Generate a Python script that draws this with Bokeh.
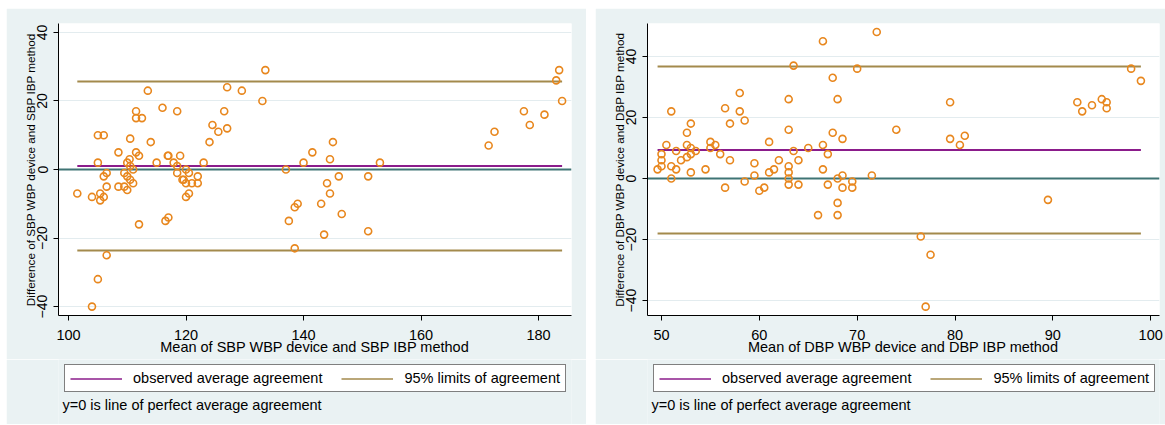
from bokeh.plotting import figure
from bokeh.models import Span, FixedTicker, Legend, LegendItem, Label, Range1d
from bokeh.layouts import row, column
from bokeh.embed import file_html
from bokeh.resources import INLINE

# ---------------- data ----------------
sbp_mean = [101.5, 104, 104, 105, 105, 105, 105.4, 105.4, 106, 106, 106, 106.5, 106.5, 106.5,
            108.5, 108.5, 109.5, 109.5, 110, 110, 110, 110.4, 110.5, 110.5, 110.5, 111, 111,
            111.5, 111.5, 111.5, 112, 112, 112.5, 113.5, 114, 115, 116, 116.5, 117, 117, 116.9,
            117.9, 118.5, 118.5, 118.5, 119, 119.4, 119.6, 120, 120, 120, 120.5, 120.5, 121,
            122, 122, 123, 124, 124.5, 125.5, 126.5, 127, 127, 129.5, 133, 133.5, 137, 137.5,
            138.5, 139, 138.5, 140, 141.5, 143, 143.5, 144, 144.5, 144.5, 145, 146, 146.5, 151,
            151, 153, 171.5, 172.5, 177.5, 178.5, 181, 183, 183.5, 184]
sbp_diff = [-7, -8, -40, 2, 10, -32, -7, -9, 10, -8, -2, -1, -5, -25,
            5, -5, -5, -1, -2, -6, 2, 3, 9, 1, -3, 0, -4,
            5, 17, 15, 4, -16, 15, 23, 8, 2, 18, -15, -14, 4, 4,
            2, 17, 1, -1, 4, -3, -3, 0, -4, -8, -1, -7, -4,
            -4, -2, 2, 8, 13, 11, 17, 24, 12, 23, 20, 29, 0, -15,
            -11, -10, -23, 2, 5, -10, -19, -4, 3, -7, 8, -2, -13, -2,
            -18, 2, 7, 11, 17, 13, 16, 26, 29, 20]
sbp_bias, sbp_upper, sbp_lower = 1.0, 25.7, -23.6

dbp_mean = [49.6, 50, 50, 50, 50.5, 51, 51, 51, 51.5, 51.5, 52, 52.6, 52.6, 52.6, 53, 53, 53, 53,
            53.5, 54.5, 55, 55, 55.5, 56, 56.5, 56.5, 57, 57, 58, 58, 58.5, 58.5, 59.5, 59.5,
            60, 60.5, 61, 61, 61.5, 62, 63, 63, 63, 63, 63, 63, 63.5, 63.5, 64, 64, 65, 66,
            66.5, 66.5, 66.5, 67, 67, 67.5, 67.5, 68, 68, 68, 68, 68.5, 68.5, 68.5, 69.5, 69.5,
            70, 71.5, 72, 74, 76.5, 77, 77.5, 79.5, 79.5, 80.5, 81, 89.5, 92.5, 93, 94, 95,
            95.5, 95.5, 98, 99]
dbp_diff = [3, 4, 6, 8, 11, 22, 4, 0, 3, 9, 6, 15, 11, 7, 10, 8, 18, 2,
            9, 3, 12, 10, 11, 8, 23, -3, 18, 6, 28, 22, 19, -1, 5, 1,
            -4, -3, 12, 2, 3, 6, 26, 16, 4, 2, 0, -2, 37, 9, -2, 6, 10, -12,
            45, 11, 3, 8, -2, 33, 15, 26, 0, -8, -12, 13, 1, -3, -1, -3,
            36, 1, 48, 16, -19, -42, -25, 25, 13, 11, 14, -7, 25, 22, 24, 26,
            25, 23, 36, 32]
dbp_bias, dbp_upper, dbp_lower = 9.3, 36.7, -18.0

sbp_xticks = [100, 120, 140, 160, 180]
dbp_xticks = [50, 60, 70, 80, 90, 100]
y_ticks = [-40, -20, 0, 20, 40]

sbp_xlabel = "Mean of SBP WBP device and SBP IBP method"
sbp_ylabel = "Difference of SBP WBP device and SBP IBP method"
dbp_xlabel = "Mean of DBP WBP device and DBP IBP method"
dbp_ylabel = "Difference of DBP WBP device and DBP IBP method"
legend_labels = ["observed average agreement", "95% limits of agreement"]
note_text = "y=0 is line of perfect average agreement"

# ---------------- styling ----------------
FONT = "Liberation Sans"
PANEL_BG = "#EAF2F3"
MARKER = "#E8871E"
MEAN_C = "#8B1C8B"
LOA_C = "#A38A4C"
ZERO_C = "#3F7474"


def make_plot(xs, ys, bias, upper, lower, xr, yr, xticks, xlabel, ylabel,
              width, b_left, b_right):
    p = figure(width=width, height=351, output_backend="svg", toolbar_location=None,
               x_range=Range1d(*xr), y_range=Range1d(*yr),
               min_border_left=b_left, min_border_right=b_right,
               min_border_top=15, min_border_bottom=44)
    p.border_fill_color = PANEL_BG
    p.background_fill_color = "white"
    p.outline_line_color = None

    p.xgrid.grid_line_color = None
    p.ygrid.grid_line_color = "#E3ECEF"
    p.ygrid.grid_line_width = 1

    p.xaxis.ticker = FixedTicker(ticks=xticks)
    p.yaxis.ticker = FixedTicker(ticks=y_ticks)
    for ax in (p.xaxis, p.yaxis):
        ax.axis_line_color = "black"
        ax.axis_line_width = 1
        ax.major_tick_line_color = "black"
        ax.major_tick_in = 0
        ax.major_tick_out = 5
        ax.minor_tick_line_color = None
        ax.major_label_text_font = FONT
        ax.major_label_text_color = "black"
        ax.axis_label_text_font = FONT
        ax.axis_label_text_font_style = "normal"
        ax.axis_label_text_color = "black"
    p.xaxis.axis_label = xlabel
    p.xaxis.major_label_text_font_size = "14.5px"
    p.xaxis.axis_label_text_font_size = "14.5px"
    p.xaxis.major_label_standoff = 9
    p.xaxis.axis_label_standoff = -4
    p.yaxis.axis_label = ylabel
    p.yaxis.major_label_orientation = "vertical"
    p.yaxis.major_label_text_font_size = "14px"
    p.yaxis.axis_label_text_font_size = "11.7px"
    p.yaxis.major_label_standoff = 6
    p.yaxis.axis_label_standoff = -2

    p.add_layout(Span(location=0, dimension="width", line_color=ZERO_C,
                      line_width=2, level="underlay"))

    x0, x1 = min(xs), max(xs)
    p.line([x0, x1], [bias, bias], line_color=MEAN_C, line_width=2)
    p.line([x0, x1], [upper, upper], line_color=LOA_C, line_width=2)
    p.line([x0, x1], [lower, lower], line_color=LOA_C, line_width=2)

    p.scatter(xs, ys, marker="circle", size=7, fill_alpha=0,
              line_color=MARKER, line_width=1.6)
    return p


def make_key(width, xs, bias, upper):
    # key strip under the plot: its ranges are far away from the data, so the
    # sample lines only show up as legend glyphs
    k = figure(width=width, height=65, output_backend="svg", toolbar_location=None,
               x_range=Range1d(1e5, 1e5 + 1), y_range=Range1d(1e5, 1e5 + 1),
               x_axis_type=None, y_axis_type=None,
               min_border_left=0, min_border_right=0, min_border_top=0, min_border_bottom=0)
    k.border_fill_color = PANEL_BG
    k.background_fill_color = PANEL_BG
    k.outline_line_color = None
    k.grid.grid_line_color = None
    x0, x1 = min(xs), max(xs)
    r_mean = k.line([x0, x1], [bias, bias], line_color=MEAN_C, line_width=1.5)
    r_loa = k.line([x0, x1], [upper, upper], line_color=LOA_C, line_width=1.5)
    legend = Legend(items=[LegendItem(label=legend_labels[0], renderers=[r_mean]),
                           LegendItem(label=legend_labels[1], renderers=[r_loa])],
                    orientation="horizontal", location=(6, 32),
                    glyph_width=52, glyph_height=15, label_height=15,
                    label_standoff=11, spacing=19, padding=5, margin=0,
                    label_text_font=FONT, label_text_font_size="14.5px",
                    label_text_color="black",
                    border_line_color="black", border_line_width=1,
                    background_fill_color="white", background_fill_alpha=1)
    k.add_layout(legend)
    k.add_layout(Label(x=4, y=20, x_units="screen", y_units="screen", text=note_text,
                       text_font=FONT, text_font_size="14.5px", text_color="black",
                       text_baseline="middle", text_align="left"))
    return k


p1 = make_plot(sbp_mean, sbp_diff, sbp_bias, sbp_upper, sbp_lower,
               (98.3, 185.6), (-42.6, 42.6), sbp_xticks, sbp_xlabel, sbp_ylabel,
               580, 52, 15)
p2 = make_plot(dbp_mean, dbp_diff, dbp_bias, dbp_upper, dbp_lower,
               (48.57, 100.9), (-44.9, 50.8), dbp_xticks, dbp_xlabel, dbp_ylabel,
               570, 52, 6)
k1 = make_key(580, sbp_mean, sbp_bias, sbp_upper)
k2 = make_key(570, dbp_mean, dbp_bias, dbp_upper)

c1 = column(p1, k1, spacing=0)
c1.margin = (8, 0, 0, 6)
c2 = column(p2, k2, spacing=0)
c2.margin = (8, 0, 0, 0)
layout = row(c1, c2, spacing=9)
open("out.html", "w").write(file_html(layout, INLINE))
